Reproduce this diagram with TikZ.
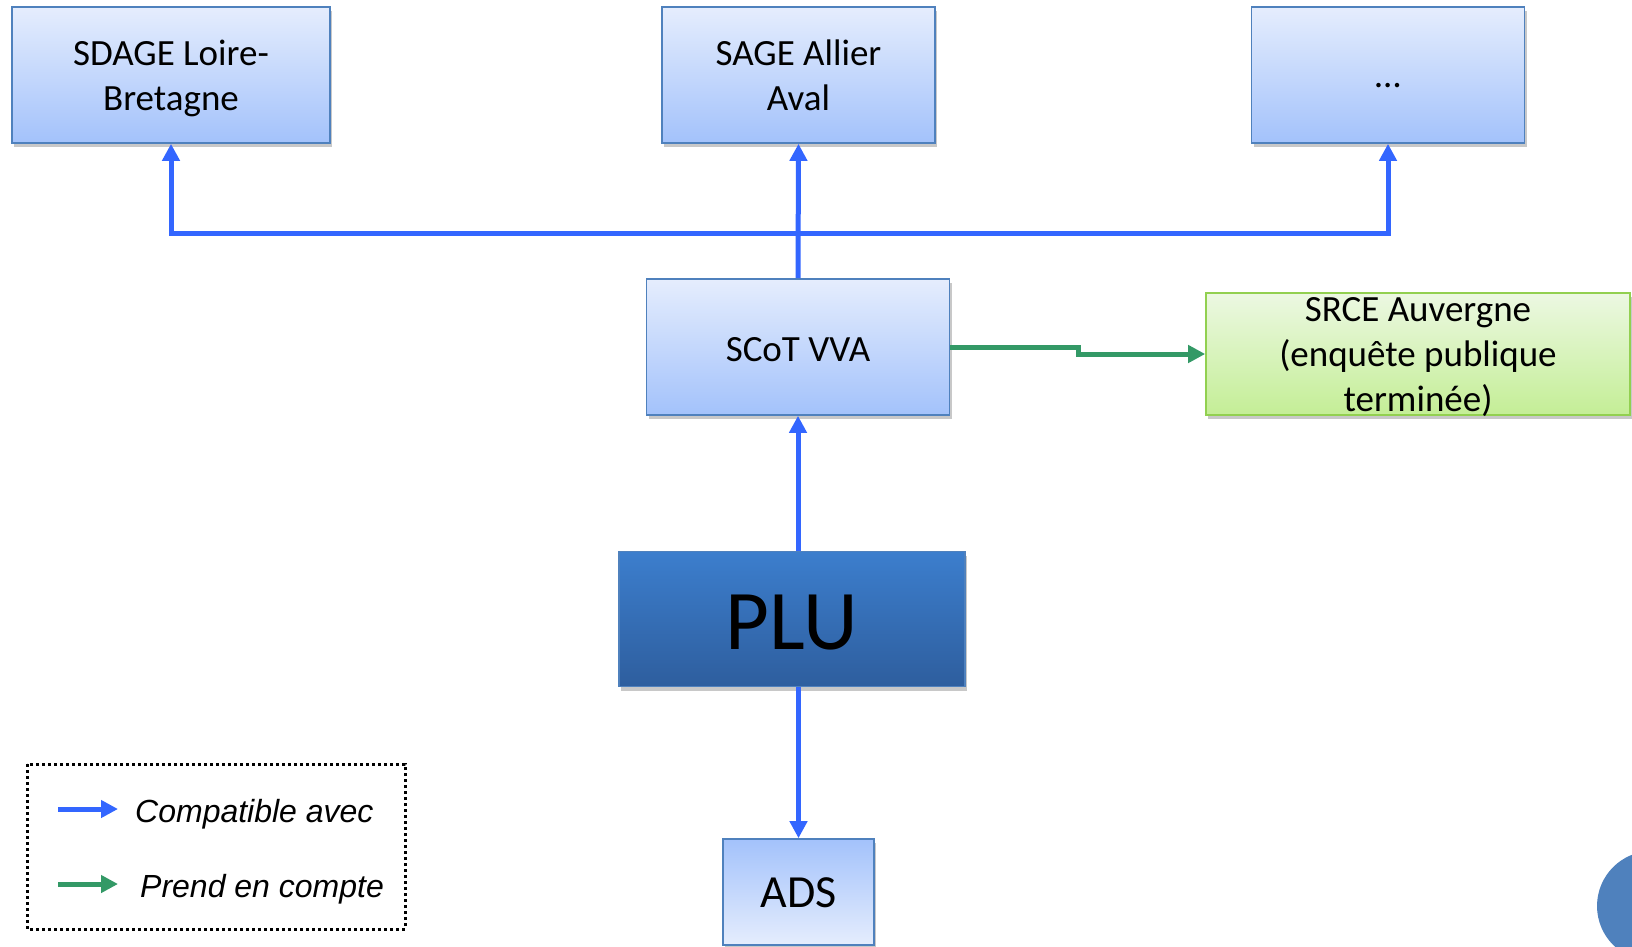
\documentclass[tikz,border=0pt]{standalone}
\usepackage{fontspec}
\setmainfont{Carlito}
\newfontfamily\legendfont{Liberation Sans}
\usetikzlibrary{arrows.meta,shadows}

\definecolor{linkblue}{RGB}{51,102,255}
\definecolor{linkgreen}{RGB}{51,153,102}
\definecolor{boxedge}{RGB}{79,129,189}
\definecolor{boxtop}{RGB}{229,237,253}
\definecolor{boxbottom}{RGB}{163,194,251}
\definecolor{plutop}{RGB}{60,126,205}
\definecolor{plubottom}{RGB}{46,94,158}
\definecolor{greenedge}{RGB}{146,208,80}
\definecolor{greentop}{RGB}{236,248,226}
\definecolor{greenbottom}{RGB}{196,238,150}
\definecolor{discblue}{RGB}{79,129,189}

\begin{document}
\begin{tikzpicture}[x=1pt,y=-1pt,
  boxbase/.style={draw=boxedge, line width=1.6pt, align=center, inner sep=0pt,
    text depth=0pt,
    drop shadow={shadow xshift=2pt, shadow yshift=-4pt, opacity=0.3, fill=black!70},
    font=\fontsize{37}{45}\selectfont},
  bluebox/.style={boxbase, top color=boxtop, bottom color=boxbottom},
  revbox/.style={boxbase, top color=boxbottom, bottom color=boxtop},
  plubox/.style={boxbase, top color=plutop, bottom color=plubottom,
    font=\fontsize{85}{90}\selectfont},
  greenbox/.style={boxbase, draw=greenedge, top color=greentop, bottom color=greenbottom},
  compat/.style={draw=linkblue, line width=5pt, -{Triangle[length=17pt,width=17pt]}},
  account/.style={draw=linkgreen, line width=5pt, -{Triangle[length=17pt,width=17pt]}},
  legendtext/.style={anchor=west, inner sep=0pt, font=\legendfont\itshape\fontsize{32}{36}\selectfont},
]
\clip (0,0) rectangle (1632,946);
\fill[white] (0,0) rectangle (1632,946);

% upper-level documents
\node[bluebox, minimum width=318pt, minimum height=136pt] (sdage) at (171,75) {SDAGE Loire-\\Bretagne};
\node[bluebox, minimum width=273pt, minimum height=136pt] (sage) at (798.5,75) {SAGE Allier\\Aval};
\node[bluebox, minimum width=273pt, minimum height=136pt, text height=24pt] (other) at (1388,75) {\dots};

% SCoT and the regional scheme
\node[bluebox, minimum width=303pt, minimum height=136pt, text height=28pt] (scot) at (798,347) {SCoT VVA};
\node[greenbox, minimum width=424pt, minimum height=122pt] (srce) at (1418,354) {SRCE Auvergne\\(enquête publique\\terminée)};

% PLU and ADS
\node[plubox, minimum width=346pt, minimum height=135pt, text height=61pt] (plu) at (792,619) {PLU};
\node[revbox, minimum width=151pt, minimum height=106pt, text height=30pt, font=\fontsize{46}{50}\selectfont] (ads) at (798.5,892) {ADS};

% compatibility links
\coordinate (hub) at (scot.north |- 0,233);
\draw[compat] (hub) -| (sdage.south);
\draw[compat] (hub) -| (other.south);
\draw[compat] (scot.north) -- (sage.south);
\draw[compat] (plu.north -| scot.south) -- (scot.south);
\draw[compat] (plu.south -| ads.north) -- (ads.north);

% taken into account
\draw[account] (scot.east) -- ++(128,0) |- (srce.west);

% legend
\draw[line width=3pt, dash pattern=on 3pt off 3pt] (27,764) rectangle (405,929);
\coordinate (lb1) at (58,809);
\coordinate (lb2) at (118,809);
\coordinate (lg1) at (58,884);
\coordinate (lg2) at (118,884);
\draw[compat] (lb1) -- (lb2);
\draw[account] (lg1) -- (lg2);
\node[legendtext] (lcompat) at (135,814) {Compatible avec};
\node[legendtext] (laccount) at (140,889) {Prend en compte};

% page-corner disc
\fill[discblue] (1652,906) circle (55);
\end{tikzpicture}
\end{document}
